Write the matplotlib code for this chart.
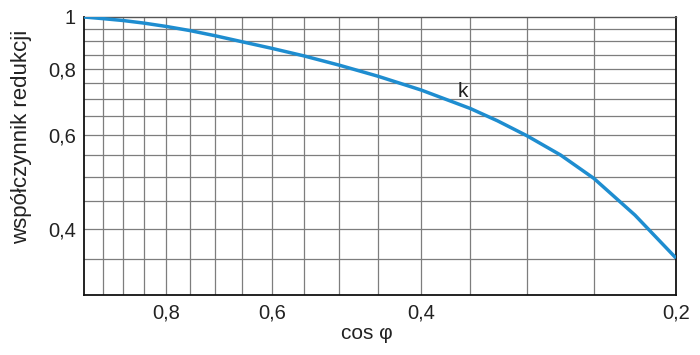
import matplotlib.pyplot as plt
from matplotlib.ticker import FixedLocator, NullFormatter

# cos phi values (read at the grid lines plus a few in between) and reduction factor k
cos_phi = [1.0, 0.95, 0.9, 0.85, 0.8, 0.75, 0.7, 0.65, 0.6, 0.55,
           0.5, 0.45, 0.4, 0.35, 0.325, 0.3, 0.2737, 0.25, 0.2236, 0.2]
k_vals = [1.0, 0.993, 0.985, 0.974, 0.96, 0.943, 0.922, 0.898, 0.873, 0.845,
          0.812, 0.774, 0.729, 0.673, 0.638, 0.598, 0.550, 0.497, 0.424, 0.352]

x_ticks = [0.8, 0.6, 0.4, 0.2]
x_labels = ["0,8", "0,6", "0,4", "0,2"]
y_ticks = [1.0, 0.8, 0.6, 0.4]
y_labels = ["1", "0,8", "0,6", "0,4"]
x_grid = [0.95, 0.9, 0.85, 0.8, 0.75, 0.7, 0.65, 0.6, 0.55, 0.5, 0.45, 0.4, 0.35, 0.3, 0.25]
y_grid = [0.95, 0.9, 0.85, 0.8, 0.75, 0.7, 0.65, 0.6, 0.55, 0.5, 0.45, 0.4, 0.35]

plt.rcParams['font.family'] = ['Liberation Sans', 'DejaVu Sans']

fig = plt.figure(figsize=(7, 3.55), dpi=100)
ax = fig.add_axes([84 / 700, 1 - 295 / 355, 592 / 700, 278 / 355])

ax.set_xscale('log')
ax.set_yscale('log')
ax.set_xlim(1.0, 0.2)
ax.set_ylim(0.3, 1.0)

# grid
for g in x_grid:
    ax.axvline(g, color='#7d7d7d', lw=0.9, zorder=1)
for g in y_grid:
    ax.axhline(g, color='#7d7d7d', lw=0.9, zorder=1)

ax.plot(cos_phi, k_vals, color='#1e8dd0', lw=2.5, zorder=3,
        solid_capstyle='butt', solid_joinstyle='round')
ax.text(0.357, 0.725, "k", fontsize=15, ha='center', va='center', color='#222222')

ax.xaxis.set_major_locator(FixedLocator(x_ticks))
ax.xaxis.set_minor_locator(FixedLocator([]))
ax.xaxis.set_minor_formatter(NullFormatter())
ax.set_xticklabels(x_labels)
ax.yaxis.set_major_locator(FixedLocator(y_ticks))
ax.yaxis.set_minor_locator(FixedLocator([]))
ax.yaxis.set_minor_formatter(NullFormatter())
ax.set_yticklabels(y_labels)
ax.tick_params(axis='both', length=0, labelsize=14.5, colors='#222222')
ax.tick_params(axis='x', pad=6)
ax.tick_params(axis='y', pad=6)

for s in ['left', 'bottom', 'right']:
    ax.spines[s].set_color('#111111')
    ax.spines[s].set_linewidth(1.3)
ax.spines['top'].set_color('#555555')
ax.spines['top'].set_linewidth(1.0)

ax.set_ylabel("współczynnik redukcji", fontsize=16, color='#222222')
ax.yaxis.set_label_coords(-0.088, 0.567)
ax.set_xlabel("cos φ", fontsize=15, color='#222222')
ax.xaxis.set_label_coords(0.478, -0.105)

fig.savefig("out.png", dpi=100)
